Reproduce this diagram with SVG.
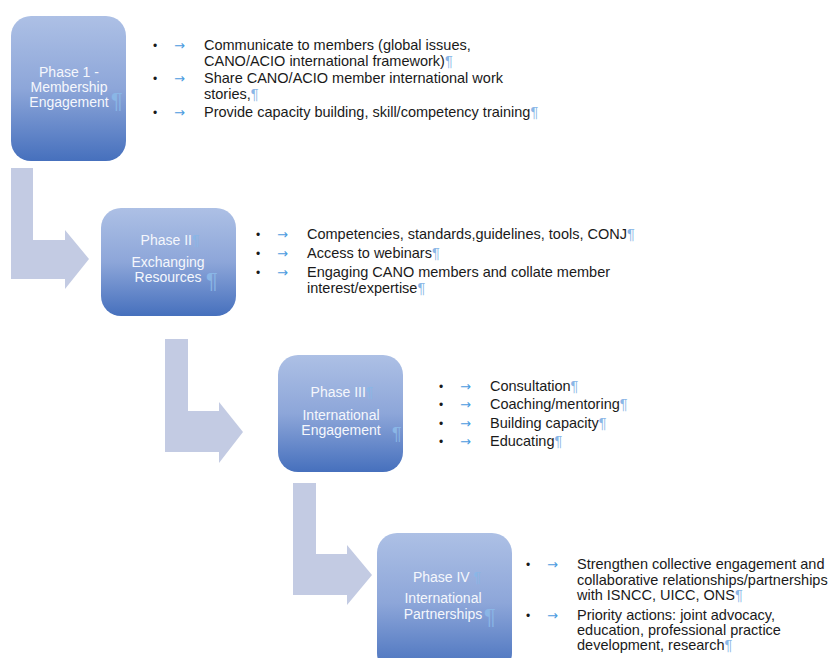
<svg xmlns="http://www.w3.org/2000/svg" width="835" height="658" viewBox="0 0 835 658">
<defs>
<linearGradient id="boxg" x1="0" y1="0" x2="0" y2="1">
<stop offset="0" stop-color="#adc0e5"/>
<stop offset="0.5" stop-color="#8da6d9"/>
<stop offset="1" stop-color="#4670bd"/>
</linearGradient>
<style>
.box{fill:url(#boxg);}
.arr{fill:#c3cbe3;}
.bt{font-family:"Liberation Sans",Arial,sans-serif;font-size:14px;fill:#f5f7fc;text-anchor:middle;}
.pil{font-family:"Liberation Sans",Arial,sans-serif;fill:#8ab6e6;}
.tx{font-family:"Liberation Sans",Arial,sans-serif;font-size:14.5px;fill:#1a1a1a;}
.bu{font-family:"Liberation Sans",Arial,sans-serif;font-size:12px;fill:#1a1a1a;}
.ar{font-family:"DejaVu Sans",sans-serif;font-size:13px;fill:#4a9be0;}
.pm{fill:#8ab6e6;}
</style>
</defs>
<rect width="835" height="658" fill="#ffffff"/>

<g id="connectors">
<polygon class="arr" points="11,168 33,168 33,240 65,240 65,230 89,259 65,289 65,279 11,279"/>
<polygon class="arr" points="165,339 188,339 188,411 219,411 219,402 243,432 219,463 219,452 165,452"/>
<polygon class="arr" points="293,483 316,483 316,554 347,554 347,545 372,575 347,605 347,595 293,595"/>
</g>

<g id="phase1">
<rect class="box" x="11" y="16" width="115" height="145" rx="20" ry="20"/>
<text class="bt" x="69" y="77">Phase 1 -</text>
<text class="bt" x="69" y="92">Membership</text>
<text class="bt" x="69" y="107">Engagement</text>
<text class="pil" x="111" y="108" font-size="22">¶</text>
</g>

<g id="phase2">
<rect class="box" x="101" y="208" width="135" height="108" rx="20" ry="20"/>
<text class="bt" x="170" y="245">Phase II<tspan class="pm">¶</tspan></text>
<text class="bt" x="168" y="267">Exchanging</text>
<text class="bt" x="168" y="282">Resources</text>
<text class="pil" x="206" y="288" font-size="22">¶</text>
</g>

<g id="phase3">
<rect class="box" x="278" y="355" width="125" height="117" rx="20" ry="20"/>
<text class="bt" x="342" y="397">Phase III<tspan class="pm">¶</tspan></text>
<text class="bt" x="341" y="420">International</text>
<text class="bt" x="341" y="435">Engagement</text>
<text class="pil" x="392" y="440" font-size="18">¶</text>
</g>

<g id="phase4">
<rect class="box" x="377" y="533" width="135" height="140" rx="20" ry="20"/>
<text class="bt" x="447" y="582">Phase IV <tspan class="pm">¶</tspan></text>
<text class="bt" x="443" y="603">International</text>
<text class="bt" x="443" y="619">Partnerships</text>
<text class="pil" x="484" y="624" font-size="22">¶</text>
</g>

<g id="list1">
<text class="bu" x="153" y="50">•</text><text class="ar" x="174" y="50">→</text>
<text class="tx" x="204" y="50">Communicate to members  (global issues,</text>
<text class="tx" x="204" y="66">CANO/ACIO international framework)<tspan class="pm">¶</tspan></text>
<text class="bu" x="153" y="83">•</text><text class="ar" x="174" y="83">→</text>
<text class="tx" x="204" y="83">Share CANO/ACIO member international work</text>
<text class="tx" x="204" y="99">stories,<tspan class="pm">¶</tspan></text>
<text class="bu" x="153" y="117">•</text><text class="ar" x="174" y="117">→</text>
<text class="tx" x="204" y="117">Provide capacity building, skill/competency training<tspan class="pm">¶</tspan></text>
</g>

<g id="list2">
<text class="bu" x="256" y="239">•</text><text class="ar" x="277" y="239">→</text>
<text class="tx" x="307" y="239">Competencies, standards,guidelines, tools, CONJ<tspan class="pm">¶</tspan></text>
<text class="bu" x="256" y="258">•</text><text class="ar" x="277" y="258">→</text>
<text class="tx" x="307" y="258">Access to webinars<tspan class="pm">¶</tspan></text>
<text class="bu" x="256" y="277">•</text><text class="ar" x="277" y="277">→</text>
<text class="tx" x="307" y="277">Engaging CANO members  and collate member</text>
<text class="tx" x="307" y="293">interest/expertise<tspan class="pm">¶</tspan></text>
</g>

<g id="list3">
<text class="bu" x="439" y="391">•</text><text class="ar" x="460" y="391">→</text>
<text class="tx" x="490" y="391">Consultation<tspan class="pm">¶</tspan></text>
<text class="bu" x="439" y="409">•</text><text class="ar" x="460" y="409">→</text>
<text class="tx" x="490" y="409">Coaching/mentoring<tspan class="pm">¶</tspan></text>
<text class="bu" x="439" y="428">•</text><text class="ar" x="460" y="428">→</text>
<text class="tx" x="490" y="428">Building capacity<tspan class="pm">¶</tspan></text>
<text class="bu" x="439" y="446">•</text><text class="ar" x="460" y="446">→</text>
<text class="tx" x="490" y="446">Educating<tspan class="pm">¶</tspan></text>
</g>

<g id="list4">
<text class="bu" x="526" y="569">•</text><text class="ar" x="547" y="569">→</text>
<text class="tx" x="577" y="569">Strengthen collective engagement and</text>
<text class="tx" x="577" y="585">collaborative relationships/partnerships</text>
<text class="tx" x="577" y="600">with ISNCC, UICC, ONS<tspan class="pm">¶</tspan></text>
<text class="bu" x="526" y="620">•</text><text class="ar" x="547" y="620">→</text>
<text class="tx" x="577" y="620">Priority actions: joint advocacy,</text>
<text class="tx" x="577" y="635">education, professional practice</text>
<text class="tx" x="577" y="650">development, research<tspan class="pm">¶</tspan></text>
</g>
</svg>
